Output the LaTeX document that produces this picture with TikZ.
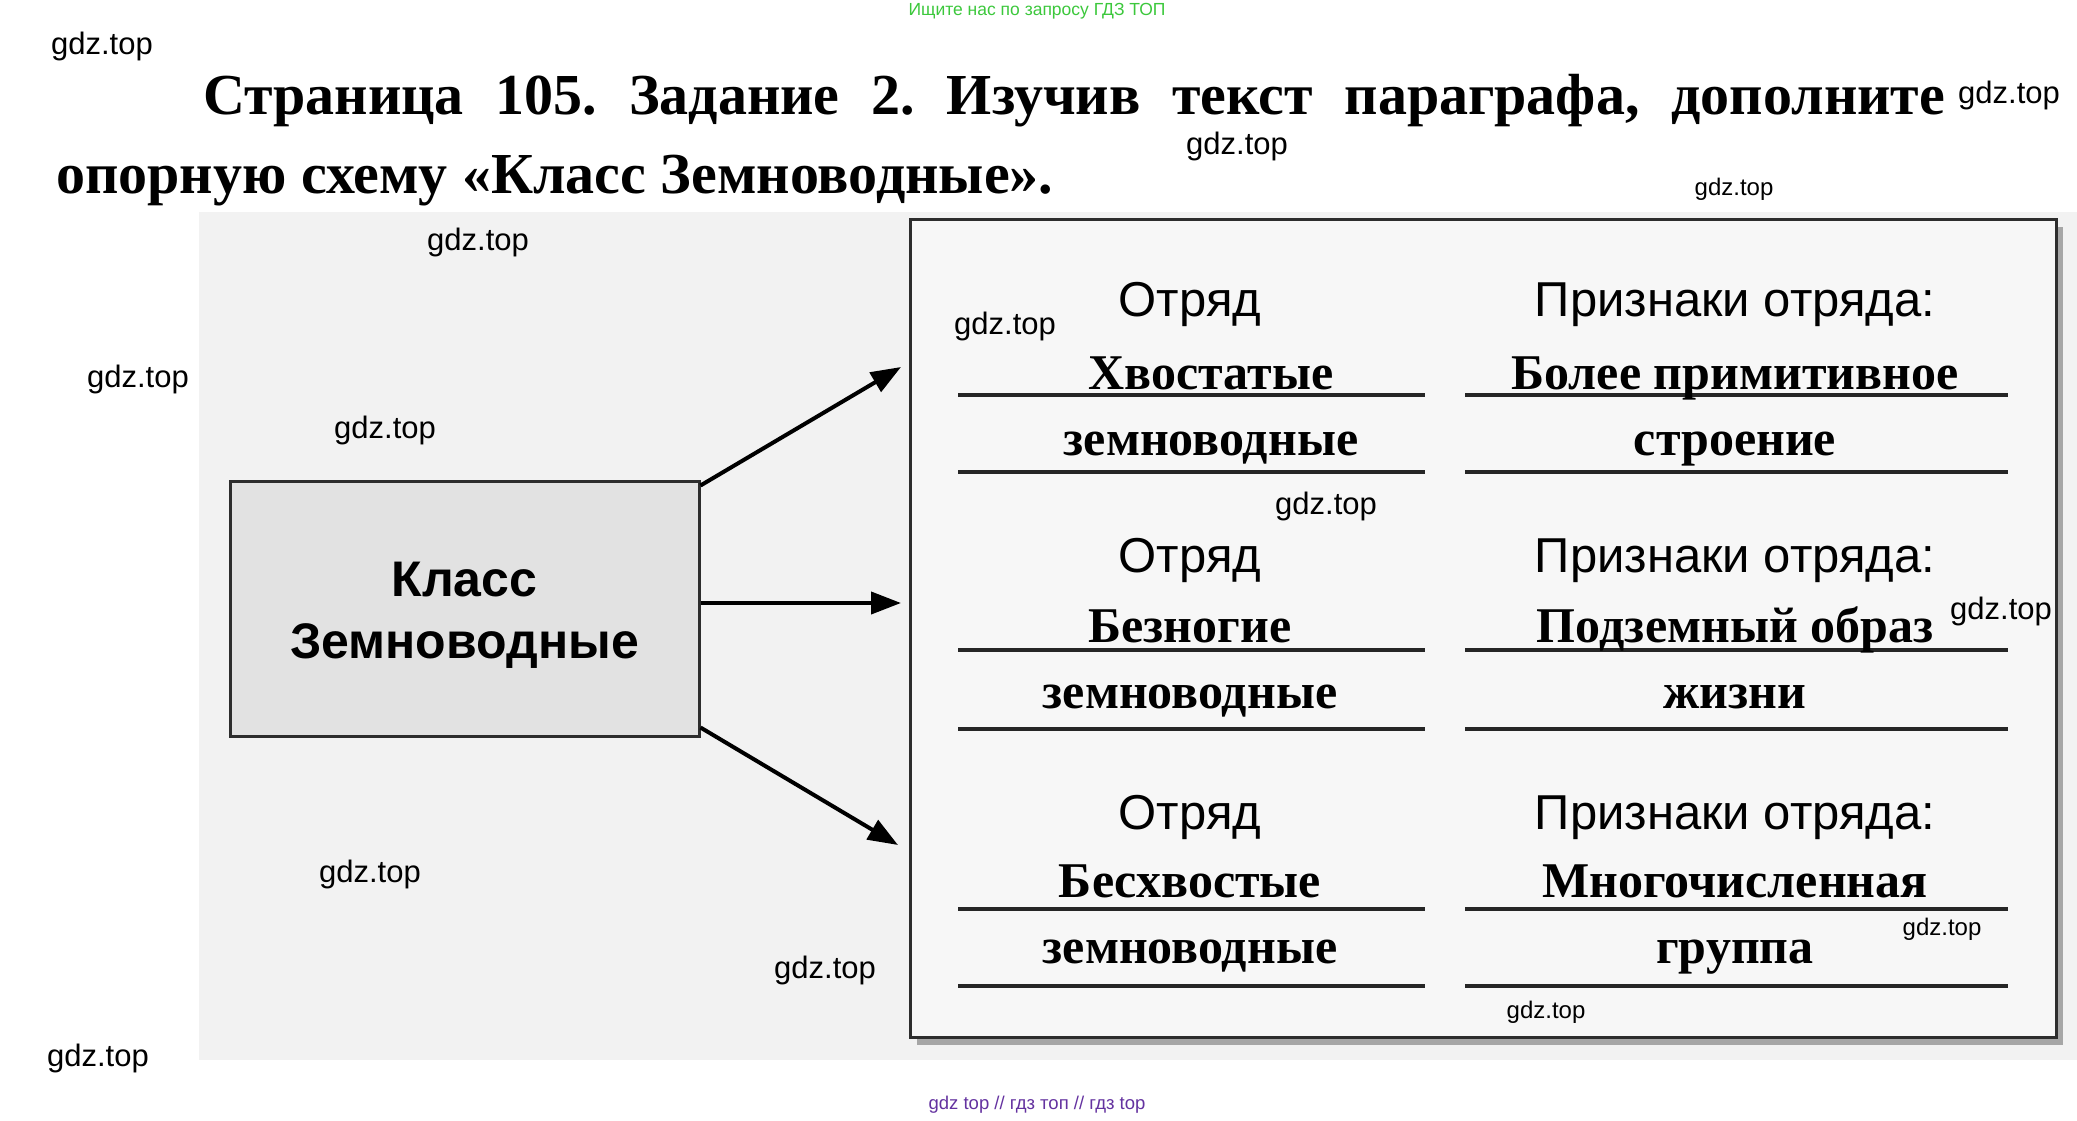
\documentclass[tikz,border=0pt]{standalone}
\usepackage{fontspec}
\setmainfont{Liberation Serif}
\setsansfont{Liberation Sans}
\usetikzlibrary{arrows.meta}
\frenchspacing
\definecolor{scangray}{RGB}{242,242,242}
\definecolor{boxgray}{RGB}{226,226,226}
\definecolor{edgegray}{RGB}{45,45,45}
\definecolor{wmgreen}{RGB}{60,200,60}
\definecolor{wmpurple}{RGB}{100,50,160}
\begin{document}
\begin{tikzpicture}[x=1pt,y=-1pt,
  wm/.style={font=\sffamily\fontsize{31}{31}\selectfont, inner sep=0pt, text=black},
  wms/.style={font=\sffamily\fontsize{24}{24}\selectfont, inner sep=0pt, text=black},
  title/.style={font=\bfseries\fontsize{58}{58}\selectfont, inner sep=0pt, anchor=base west},
  label/.style={font=\sffamily\fontsize{49}{49}\selectfont, inner sep=0pt, anchor=base},
  answer/.style={font=\bfseries\fontsize{50}{50}\selectfont, inner sep=0pt, anchor=base},
  uline/.style={line width=3.5pt, draw=black!85},
  arr/.style={line width=4pt, -{Triangle[length=30pt,width=22pt]}}
]
\useasboundingbox (0,0) rectangle (2077,1121);
\fill[white] (0,0) rectangle (2077,1121);
% scanned page area
\fill[scangray] (199,212) rectangle (2077,1060);

% header
\node[font=\sffamily\fontsize{17.5}{17.5}\selectfont, text=wmgreen, inner sep=0pt] (hdr) at (1037,11) {Ищите нас по запросу ГДЗ ТОП};

% title
\node[title] (t1) at (203,115) {\makebox[1742pt][s]{Страница 105. Задание 2. Изучив текст параграфа, дополните}};
\node[title] (t2) at (56,193) {опорную схему «Класс Земноводные».};

% panel with shadow
\fill[black!35] (917,227) rectangle (2063,1045);
\node[draw=edgegray, line width=3pt, fill=white!97!black, minimum width=1146pt, minimum height=818pt, inner sep=0pt] (panel) at (1483,628) {};

% class box
\node[draw=edgegray, line width=3pt, fill=boxgray, minimum width=469pt, minimum height=255pt, inner sep=0pt,
  font=\sffamily\bfseries\fontsize{50}{62}\selectfont, align=center] (cls) at (464.5,608.5) {};
\node[font=\sffamily\bfseries\fontsize{50}{62}\selectfont, align=center, inner sep=0pt] (clstxt) at (464.5,615) {Класс\\Земноводные};

% arrow ends
\coordinate (a1) at (901,367);
\coordinate (a2) at (901,603);
\coordinate (a3) at (898,845);
\draw[arr] ([yshift=-6pt]cls.north east) -- (a1);
\draw[arr] (cls.east |- a2) -- (a2);
\draw[arr] ([yshift=10pt]cls.south east) -- (a3);

% row headers
\node[label] (o1) at (1190,316) {Отряд};
\node[label] (p1) at (1735,316) {Признаки отряда:};
\node[label] (o2) at (1190,572) {Отряд};
\node[label] (p2) at (1735,572) {Признаки отряда:};
\node[label] (o3) at (1190,829) {Отряд};
\node[label] (p3) at (1735,829) {Признаки отряда:};

% underlines
\foreach \yy in {395,472,650,729,909,986} {
  \draw[uline] (958,\yy) -- (1425,\yy);
  \draw[uline] (1465,\yy) -- (2008,\yy);
}

% answers
\node[answer] (r1a) at (1211,389) {Хвостатые};
\node[answer] (r1b) at (1211,455) {земноводные};
\node[answer] (r1c) at (1735,389) {Более примитивное};
\node[answer] (r1d) at (1735,455) {строение};
\node[answer] (r2a) at (1190,642) {Безногие};
\node[answer] (r2b) at (1190,708) {земноводные};
\node[answer] (r2c) at (1735,642) {Подземный образ};
\node[answer] (r2d) at (1735,708) {жизни};
\node[answer] (r3a) at (1190,897) {Бесхвостые};
\node[answer] (r3b) at (1190,963) {земноводные};
\node[answer] (r3c) at (1735,897) {Многочисленная};
\node[answer] (r3d) at (1735,963) {группа};

% watermarks
\node[wm] (w1) at (102,46) {gdz.top};
\node[wm] (w2) at (2009,95) {gdz.top};
\node[wm] (w3) at (1237,146) {gdz.top};
\node[wms] (w4) at (1734,189) {gdz.top};
\node[wm] (w5) at (478,242) {gdz.top};
\node[wm] (w6) at (1005,326) {gdz.top};
\node[wm] (w7) at (138,379) {gdz.top};
\node[wm] (w8) at (385,430) {gdz.top};
\node[wm] (w9) at (1326,506) {gdz.top};
\node[wm] (w10) at (2001,611) {gdz.top};
\node[wm] (w11) at (370,874) {gdz.top};
\node[wm] (w12) at (825,970) {gdz.top};
\node[wms] (w13) at (1942,929) {gdz.top};
\node[wms] (w14) at (1546,1012) {gdz.top};
\node[wm] (w15) at (98,1058) {gdz.top};

% footer
\node[font=\sffamily\fontsize{18.5}{18.5}\selectfont, text=wmpurple, inner sep=0pt] (ftr) at (1037,1105) {gdz top // гдз топ // гдз top};
\end{tikzpicture}
\end{document}
